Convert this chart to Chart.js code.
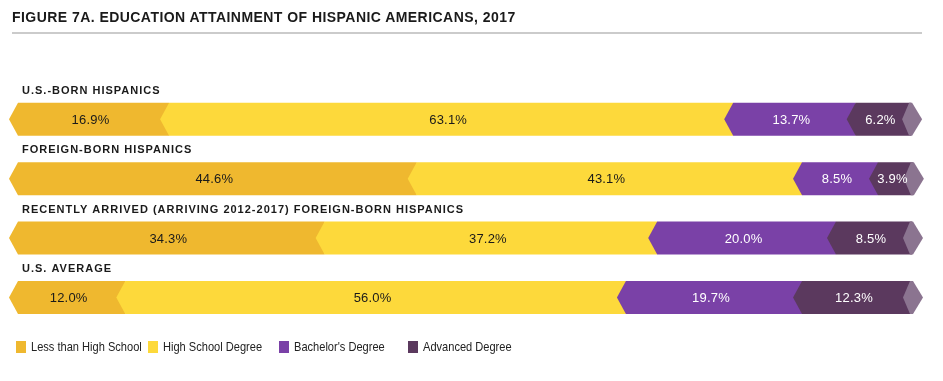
<!DOCTYPE html>
<html>
<head>
<meta charset="utf-8">
<script src="https://cdn.jsdelivr.net/npm/chart.js@4"></script>
<style>
  body { margin: 0; background: #fff; }
  #wrap { position: relative; width: 943px; height: 381px; }
  #title {
    position: absolute; left: 12px; top: 9px; width: 910px;
    font: bold 14px "Liberation Sans", Arial, sans-serif; color: #1a1a1a; letter-spacing: 0.45px;
    padding-bottom: 7px; border-bottom: 2px solid #cbcbcb;
  }
  #legend { position: absolute; left: 0; top: 340px; font: 13.5px "Liberation Sans", Arial, sans-serif; color: #222; }
  .item { position: absolute; white-space: nowrap; line-height: 14px; }
  .item span { position: absolute; left: -15px; top: 1px; width: 10px; height: 12px; }
  .item b { font-weight: normal; display: inline-block; transform: scaleX(0.82); transform-origin: left center; }
</style>
</head>
<body>
<div id="wrap">
  <div id="title">FIGURE 7A. EDUCATION ATTAINMENT OF HISPANIC AMERICANS, 2017</div>
  <canvas id="myChart" width="943" height="381"></canvas>
  <div id="legend"></div>
</div>
<script>
let categories = [
  "U.S.-BORN HISPANICS",
  "FOREIGN-BORN HISPANICS",
  "RECENTLY ARRIVED (ARRIVING 2012-2017) FOREIGN-BORN HISPANICS",
  "U.S. AVERAGE",
];
let seriesNames = ["Less than High School", "High School Degree", "Bachelor's Degree", "Advanced Degree"];
let lessThanHS = [16.9, 44.6, 34.3, 12.0];
let highSchool = [63.1, 43.1, 37.2, 56.0];
let bachelors = [13.7, 8.5, 20.0, 19.7];
let advanced = [6.2, 3.9, 8.5, 12.3];

let colors = ["#efb82f", "#fdd93b", "#7a41a7", "#5b395e"];
let textColors = ["#1a1a1a", "#1a1a1a", "#ffffff", "#ffffff"];
let capColor = "#8b7490";
let legendX = [31, 163, 294, 423];

// draw the bars as chevron shapes instead of plain rectangles
const chevronBars = {
  id: "chevronBars",
  beforeDatasetsDraw(chart) {
    let ctx = chart.ctx;
    let d = 9;
    ctx.save();
    chart.data.datasets.forEach((ds, i) => {
      let meta = chart.getDatasetMeta(i);
      meta.data.forEach((bar) => {
        let top = bar.y - bar.height / 2;
        let bottom = bar.y + bar.height / 2;
        ctx.fillStyle = ds.backgroundColor;
        ctx.beginPath();
        ctx.moveTo(bar.base - d, bar.y);
        ctx.lineTo(bar.base, top);
        ctx.lineTo(bar.x, top);
        ctx.lineTo(bar.x, bottom);
        ctx.lineTo(bar.base, bottom);
        ctx.closePath();
        ctx.fill();
      });
    });
    // end caps and group headers
    let last = chart.getDatasetMeta(chart.data.datasets.length - 1);
    last.data.forEach((bar, j) => {
      let top = bar.y - bar.height / 2;
      let bottom = bar.y + bar.height / 2;
      ctx.fillStyle = capColor;
      ctx.beginPath();
      ctx.moveTo(bar.x - 9, bar.y);
      ctx.lineTo(bar.x - 2, top);
      ctx.lineTo(bar.x + 1, top);
      ctx.lineTo(bar.x + 11, bar.y);
      ctx.lineTo(bar.x + 1, bottom);
      ctx.lineTo(bar.x - 2, bottom);
      ctx.closePath();
      ctx.fill();

      ctx.fillStyle = "#1a1a1a";
      ctx.font = "bold 11px 'Liberation Sans', Arial, sans-serif";
      ctx.letterSpacing = "1px";
      ctx.textAlign = "left";
      ctx.textBaseline = "alphabetic";
      ctx.fillText(chart.data.labels[j], 22, top - 9);
    });
    ctx.font = "13px 'Liberation Sans', Arial, sans-serif";
    ctx.letterSpacing = "0.2px";
    ctx.textAlign = "center";
    ctx.textBaseline = "middle";
    chart.data.datasets.forEach((ds, i) => {
      let meta = chart.getDatasetMeta(i);
      meta.data.forEach((bar, j) => {
        ctx.fillStyle = textColors[i];
        ctx.fillText(ds.data[j].toFixed(1) + "%", (bar.base + bar.x) / 2 - 3, bar.y + 1);
      });
    });
    ctx.restore();
    return false;
  },
};

let datasets = [lessThanHS, highSchool, bachelors, advanced].map((data, i) => ({
  label: seriesNames[i],
  data,
  backgroundColor: colors[i],
  barThickness: 33,
}));

let ctx = document.getElementById("myChart").getContext("2d");
let myChart = new Chart(ctx, {
  type: "bar",
  data: { labels: categories, datasets },
  options: {
    indexAxis: "y",
    responsive: false,
    animation: false,
    layout: { padding: { left: 18, right: 31, top: 89.6, bottom: 53.8 } },
    scales: {
      x: { stacked: true, min: 0, max: 100, display: false },
      y: { stacked: true, display: false },
    },
    plugins: { legend: { display: false }, tooltip: { enabled: false } },
  },
  plugins: [chevronBars],
});

let legendEl = document.getElementById("legend");
seriesNames.forEach((name, i) => {
  let item = document.createElement("div");
  item.className = "item";
  item.style.left = legendX[i] + "px";
  item.innerHTML = `<span style="background:${colors[i]}"></span><b>${name}</b>`;
  legendEl.appendChild(item);
});
</script>
</body>
</html>
